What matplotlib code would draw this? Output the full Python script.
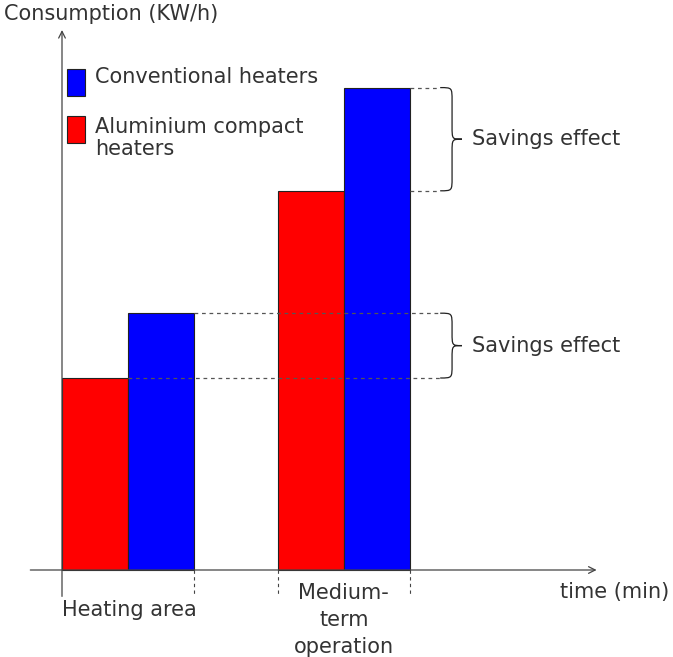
import matplotlib
matplotlib.use("Agg")
import matplotlib.pyplot as plt
from matplotlib.path import Path
from matplotlib.patches import PathPatch

# data (arbitrary consumption units)
categories = ["Heating area", "Medium-\nterm\noperation"]
series_names = ["Conventional heaters", "Aluminium compact\nheaters"]
aluminium = [4.0, 7.9]
conventional = [5.35, 10.05]
group_left = [0.0, 3.27]
colors = {"conv": "#0000ff", "alu": "#ff0000"}

text_color = "#333333"
line_color = "#444444"
font = "DejaVu Sans"
fs = 15

fig = plt.figure(figsize=(6.73, 6.57), dpi=100)
ax = fig.add_axes([0, 0, 1, 1])
ax.set_xlim(-62 / 66, (673 - 62) / 66)
ax.set_ylim(-(657 - 570) / 48, 570 / 48)
ax.axis("off")

# bars
ax.bar(group_left, aluminium, width=1.0, align="edge", color=colors["alu"],
       edgecolor="#222222", linewidth=0.8, zorder=2)
ax.bar([g + 1 for g in group_left], conventional, width=1.0, align="edge",
       color=colors["conv"], edgecolor="#222222", linewidth=0.8, zorder=2)

# axes with arrows
ax.annotate("", xy=(8.1, 0), xytext=(-0.48, 0),
            arrowprops=dict(arrowstyle="->", color=line_color, lw=0.9,
                            mutation_scale=12, shrinkA=0, shrinkB=0), zorder=4)
ax.annotate("", xy=(0, 11.25), xytext=(0, -0.55),
            arrowprops=dict(arrowstyle="->", color=line_color, lw=0.9,
                            mutation_scale=12, shrinkA=0, shrinkB=0), zorder=4)

# dashed ticks under x axis
for xv in [group_left[0] + 2, group_left[1], group_left[1] + 2]:
    ax.plot([xv, xv], [0, -0.55], ls=(0, (3, 3)), color=line_color, lw=0.8)

# dashed guide lines
xb = 5.73
dash = dict(ls=(0, (3, 3)), color="#555555", lw=0.9, zorder=3)
ax.plot([group_left[0] + 2, xb], [conventional[0]] * 2, **dash)
ax.plot([group_left[0] + 1, xb], [aluminium[0]] * 2, **dash)
ax.plot([group_left[1] + 2, xb], [conventional[1]] * 2, **dash)
ax.plot([group_left[1] + 2, xb], [aluminium[1]] * 2, **dash)


def brace(x0, y_lo, y_hi, w=0.18, tip=0.15):
    ym = (y_lo + y_hi) / 2
    r = 0.27
    xc = x0 + w
    verts = [(x0, y_hi), (xc, y_hi), (xc, y_hi), (xc, y_hi - r),
             (xc, ym + r),
             (xc, ym), (xc, ym), (xc + tip, ym),
             (xc, ym), (xc, ym), (xc, ym - r),
             (xc, y_lo + r),
             (xc, y_lo), (xc, y_lo), (x0, y_lo)]
    codes = [Path.MOVETO, Path.CURVE4, Path.CURVE4, Path.CURVE4,
             Path.LINETO,
             Path.CURVE4, Path.CURVE4, Path.CURVE4,
             Path.CURVE4, Path.CURVE4, Path.CURVE4,
             Path.LINETO,
             Path.CURVE4, Path.CURVE4, Path.CURVE4]
    ax.add_patch(PathPatch(Path(verts, codes), fill=False, ec="#222222", lw=0.9))
    ax.text(xc + tip + 0.15, ym, "Savings effect", fontsize=fs, family=font,
            color=text_color, va="center", ha="left")


brace(xb, aluminium[0], conventional[0])
brace(xb, aluminium[1], conventional[1])

# legend
ax.bar([0.08], [0.55], bottom=9.88, width=0.27, align="edge",
       color=colors["conv"], edgecolor="#222222", linewidth=0.8)
ax.bar([0.08], [0.55], bottom=8.9, width=0.27, align="edge",
       color=colors["alu"], edgecolor="#222222", linewidth=0.8)
ax.text(0.5, 10.28, series_names[0], fontsize=fs, family=font,
        color=text_color, va="center", ha="left")
ax.text(0.5, 9.0, series_names[1], fontsize=fs, family=font,
        color=text_color, va="center", ha="left", linespacing=1.1)

# labels
ax.text(-0.88, 11.58, "Consumption (KW/h)", fontsize=fs, family=font,
        color=text_color, va="center", ha="left")
ax.text(7.55, -0.46, "time (min)", fontsize=fs, family=font,
        color=text_color, va="center", ha="left")
ax.text(0.0, -0.84, categories[0], fontsize=fs, family=font,
        color=text_color, va="center", ha="left")
ax.text(group_left[1] + 1, -1.04, categories[1], fontsize=fs, family=font,
        color=text_color, va="center", ha="center", linespacing=1.42)

fig.savefig("out.png", dpi=100)
